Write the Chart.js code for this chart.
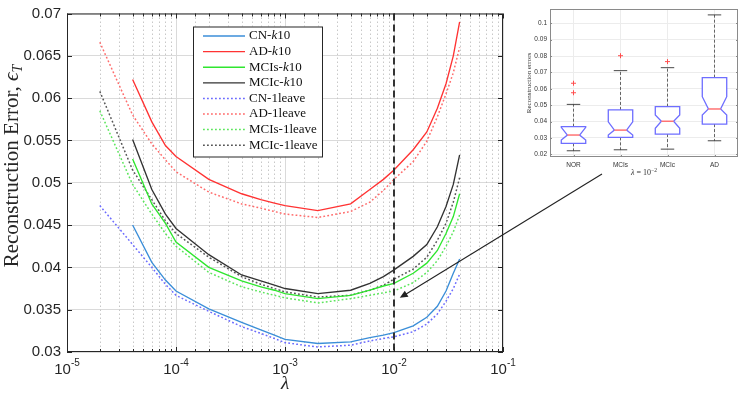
<!DOCTYPE html>
<html>
<head>
<meta charset="utf-8">
<script src="https://cdn.jsdelivr.net/npm/chart.js@4"></script>
<style>
  html, body { margin: 0; padding: 0; background: #fff; }
  #wrap { position: relative; width: 743px; height: 397px; }
  #main { position: absolute; left: 0; top: 0; }
  #inset { position: absolute; left: 500px; top: 0; }
</style>
</head>
<body>
<div id="wrap">
  <canvas id="main" width="743" height="397"></canvas>
  <canvas id="inset" width="243" height="185"></canvas>
</div>
<script>
// lambda grid (x) shared by all curves
var lambdas = [2e-5, 4e-5, 6e-5, 8e-5, 1e-4, 2e-4, 4e-4, 6e-4, 8e-4, 1e-3, 2e-3, 4e-3, 6e-3, 8e-3, 1e-2, 1.5e-2, 2e-2, 2.5e-2, 3e-2, 3.5e-2, 4e-2];

// k-fold (k10) curves start at 4e-5
var cnK10   = [null, 0.0450, 0.0406, 0.0385, 0.0372, 0.0351, 0.0335, 0.0326, 0.0320, 0.0315, 0.0310, 0.0312, 0.0317, 0.0320, 0.0323, 0.0331, 0.0341, 0.0354, 0.0372, 0.0393, 0.0410];
var adK10   = [null, 0.0622, 0.0572, 0.0544, 0.0531, 0.0504, 0.0487, 0.0480, 0.0476, 0.0473, 0.0467, 0.0475, 0.0492, 0.0504, 0.0515, 0.0539, 0.0560, 0.0588, 0.0617, 0.0650, 0.0690];
var mcisK10 = [null, 0.0528, 0.0475, 0.0452, 0.0430, 0.0400, 0.0384, 0.0377, 0.0373, 0.0369, 0.0363, 0.0367, 0.0373, 0.0378, 0.0381, 0.0393, 0.0405, 0.0420, 0.0440, 0.0460, 0.0487];
var mcicK10 = [null, 0.0551, 0.0492, 0.0463, 0.0446, 0.0415, 0.0391, 0.0384, 0.0379, 0.0375, 0.0369, 0.0373, 0.0381, 0.0389, 0.0397, 0.0413, 0.0427, 0.0448, 0.0472, 0.0498, 0.0533];

// leave-one-out curves start at 2e-5
var cnLeave   = [0.0473, 0.0427, 0.0400, 0.0380, 0.0367, 0.0348, 0.0330, 0.0322, 0.0316, 0.0311, 0.0306, 0.0308, 0.0313, 0.0316, 0.0318, 0.0324, 0.0333, 0.0345, 0.0360, 0.0375, 0.0392];
var adLeave   = [0.0666, 0.0580, 0.0546, 0.0527, 0.0513, 0.0489, 0.0475, 0.0470, 0.0466, 0.0463, 0.0459, 0.0466, 0.0477, 0.0491, 0.0504, 0.0525, 0.0549, 0.0578, 0.0605, 0.0630, 0.0660];
var mcisLeave = [0.0585, 0.0498, 0.0463, 0.0440, 0.0425, 0.0394, 0.0377, 0.0371, 0.0367, 0.0364, 0.0358, 0.0363, 0.0367, 0.0370, 0.0372, 0.0382, 0.0394, 0.0408, 0.0425, 0.0442, 0.0462];
var mcicLeave = [0.0608, 0.0515, 0.0480, 0.0455, 0.0440, 0.0412, 0.0389, 0.0380, 0.0375, 0.0371, 0.0365, 0.0367, 0.0373, 0.0379, 0.0386, 0.0398, 0.0412, 0.0432, 0.0452, 0.0477, 0.0506];

var yTicks = [0.03, 0.035, 0.04, 0.045, 0.05, 0.055, 0.06, 0.065, 0.07];
var xDecades = [1e-5, 1e-4, 1e-3, 1e-2, 1e-1];
var chosenLambda = 1e-2;

// inset boxplot at lambda = 1e-2
var boxCats = ['NOR', 'MCIs', 'MCIc', 'AD'];
var boxLow = [0.0222, 0.0228, 0.0232, 0.0283];
var boxQ1 = [0.0267, 0.0304, 0.0324, 0.0385];
var boxMedian = [0.0318, 0.0348, 0.0402, 0.0477];
var boxQ3 = [0.0369, 0.0471, 0.0491, 0.0668];
var boxHigh = [0.0505, 0.0711, 0.0729, 0.1051];
var notchLow = [0.0287, 0.0318, 0.0359, 0.0440];
var notchHigh = [0.0365, 0.0399, 0.0440, 0.0552];
var outliers = [[0.0634, 0.0576], [0.0802], [0.0766], []];

var SANS = '"Liberation Sans", Arial, sans-serif';
var SERIF = '"Liberation Serif", "DejaVu Serif", serif';
var AXIS = '#262626';

function isDecade(v) {
  var l = Math.log10(v);
  return Math.abs(l - Math.round(l)) < 1e-6;
}

function curve(label, values, color, dotted) {
  return {
    label: label,
    data: values.map(function (v, i) { return { x: lambdas[i], y: v }; }),
    borderColor: color,
    backgroundColor: color,
    borderWidth: dotted ? 1.5 : 1.35,
    borderDash: dotted ? [1.8, 2.2] : [],
    pointRadius: 0,
    tension: 0,
    fill: false
  };
}

var mainDecor = {
  id: 'mainDecor',
  beforeDraw: function (chart) {
    var c = chart.ctx;
    c.save();
    c.fillStyle = '#fff';
    c.fillRect(0, 0, chart.width, chart.height);
    c.restore();
  },
  beforeDatasetsDraw: function (chart) {
    var c = chart.ctx, a = chart.chartArea, xs = chart.scales.x;
    c.save();
    c.strokeStyle = '#c8c8c8';
    c.lineWidth = 1;
    c.setLineDash([1.5, 2.5]);
    xs.ticks.forEach(function (t) {
      if (isDecade(t.value)) return;
      var px = Math.round(xs.getPixelForValue(t.value)) + 0.5;
      c.beginPath();
      c.moveTo(px, a.top);
      c.lineTo(px, a.bottom);
      c.stroke();
    });
    c.restore();
  },
  afterDatasetsDraw: function (chart) {
    var c = chart.ctx, a = chart.chartArea, xs = chart.scales.x, ys = chart.scales.y;
    c.save();

    // selected lambda
    var dx = Math.round(xs.getPixelForValue(chosenLambda));
    c.strokeStyle = '#333';
    c.lineWidth = 2;
    c.setLineDash([7, 4]);
    c.beginPath();
    c.moveTo(dx, a.top);
    c.lineTo(dx, a.bottom);
    c.stroke();
    c.setLineDash([]);

    // box + inward ticks
    c.strokeStyle = AXIS;
    c.lineWidth = 1;
    c.strokeRect(a.left + 0.5, a.top + 0.5, a.right - a.left - 1, a.bottom - a.top - 1);
    c.beginPath();
    xs.ticks.forEach(function (t) {
      var px = Math.round(xs.getPixelForValue(t.value)) + 0.5;
      var len = isDecade(t.value) ? 5 : 3;
      c.moveTo(px, a.bottom); c.lineTo(px, a.bottom - len);
      c.moveTo(px, a.top); c.lineTo(px, a.top + len);
    });
    yTicks.forEach(function (v) {
      var py = Math.round(ys.getPixelForValue(v)) + 0.5;
      c.moveTo(a.left, py); c.lineTo(a.left + 5, py);
      c.moveTo(a.right, py); c.lineTo(a.right - 5, py);
    });
    c.stroke();

    // x tick labels 10^n
    c.fillStyle = AXIS;
    c.textBaseline = 'alphabetic';
    c.textAlign = 'left';
    xDecades.forEach(function (v) {
      var px = xs.getPixelForValue(v);
      var exp = String(Math.round(Math.log10(v)));
      c.font = '15px ' + SANS;
      var w1 = c.measureText('10').width;
      c.font = '10px ' + SANS;
      var w2 = c.measureText(exp).width;
      var x0 = px - (w1 + w2) / 2;
      c.font = '15px ' + SANS;
      c.fillText('10', x0, 374);
      c.font = '10px ' + SANS;
      c.fillText(exp, x0 + w1, 366);
    });

    // x title
    c.font = 'italic 19px ' + SERIF;
    c.textAlign = 'center';
    c.fillText('\u03bb', (a.left + a.right) / 2, 389);

    // y title
    c.save();
    c.translate(18, 166);
    c.rotate(-Math.PI / 2);
    c.textAlign = 'left';
    var t1 = 'Reconstruction Error, ';
    c.font = '21px ' + SERIF;
    var w1 = c.measureText(t1).width;
    c.font = 'italic 21px ' + SERIF;
    var w2 = c.measureText('\u03f5').width;
    c.font = 'italic 14px ' + SERIF;
    var w3 = c.measureText('T').width;
    var sx = -(w1 + w2 + w3) / 2;
    c.font = '21px ' + SERIF;
    c.fillText(t1, sx, 0);
    c.font = 'italic 21px ' + SERIF;
    c.fillText('\u03f5', sx + w1, 0);
    c.font = 'italic 14px ' + SERIF;
    c.fillText('T', sx + w1 + w2, 4);
    c.restore();

    // legend
    var lx = a.left + 126, ly = a.top + 13, lw = 129, lh = 130;
    c.fillStyle = '#fff';
    c.fillRect(lx, ly, lw, lh);
    c.strokeStyle = AXIS;
    c.lineWidth = 1;
    c.strokeRect(lx + 0.5, ly + 0.5, lw, lh);
    chart.data.datasets.forEach(function (ds, i) {
      var ry = ly + 9.5 + i * 15.6;
      c.strokeStyle = ds.borderColor;
      c.lineWidth = ds.borderWidth;
      c.setLineDash(ds.borderDash);
      c.beginPath();
      c.moveTo(lx + 10, ry);
      c.lineTo(lx + 52, ry);
      c.stroke();
      c.setLineDash([]);
      c.fillStyle = '#111';
      c.textAlign = 'left';
      c.textBaseline = 'middle';
      var parts = ds.label.split('-');
      var tx = lx + 56;
      c.font = '13px ' + SERIF;
      c.fillText(parts[0] + '-', tx, ry);
      tx += c.measureText(parts[0] + '-').width;
      var rest = parts[1];
      if (rest.charAt(0) === 'k') {
        c.font = 'italic 13px ' + SERIF;
        c.fillText('k', tx, ry);
        tx += c.measureText('k').width;
        rest = rest.slice(1);
        c.font = '13px ' + SERIF;
      }
      c.fillText(rest, tx, ry);
    });

    // arrow from inset to the chosen lambda
    var tipX = xs.getPixelForValue(1.13e-2), tipY = ys.getPixelForValue(0.0364);
    var tailX = 602, tailY = 174;
    var ang = Math.atan2(tipY - tailY, tipX - tailX);
    c.strokeStyle = '#222';
    c.fillStyle = '#222';
    c.lineWidth = 1.1;
    c.beginPath();
    c.moveTo(tailX, tailY);
    c.lineTo(tipX - 7 * Math.cos(ang), tipY - 7 * Math.sin(ang));
    c.stroke();
    c.beginPath();
    c.moveTo(tipX, tipY);
    c.lineTo(tipX - 8 * Math.cos(ang) + 3.5 * Math.sin(ang), tipY - 8 * Math.sin(ang) - 3.5 * Math.cos(ang));
    c.lineTo(tipX - 8 * Math.cos(ang) - 3.5 * Math.sin(ang), tipY - 8 * Math.sin(ang) + 3.5 * Math.cos(ang));
    c.closePath();
    c.fill();

    c.restore();
  }
};

new Chart(document.getElementById('main').getContext('2d'), {
  type: 'line',
  data: {
    datasets: [
      curve('CN-k10', cnK10, '#3b8ed8', false),
      curve('AD-k10', adK10, '#ff3333', false),
      curve('MCIs-k10', mcisK10, '#2fe62f', false),
      curve('MCIc-k10', mcicK10, '#333333', false),
      curve('CN-1leave', cnLeave, '#6b6bff', true),
      curve('AD-1leave', adLeave, '#ff6b6b', true),
      curve('MCIs-1leave', mcisLeave, '#5ce65c', true),
      curve('MCIc-1leave', mcicLeave, '#555555', true)
    ]
  },
  options: {
    responsive: false,
    animation: false,
    events: [],
    layout: { padding: { left: 0, right: 240, top: 9, bottom: 0 } },
    plugins: { legend: { display: false }, tooltip: { enabled: false } },
    scales: {
      x: {
        type: 'logarithmic',
        min: 1e-5,
        max: 1e-1,
        afterFit: function (s) { s.height = 45; },
        border: { display: false },
        grid: {
          drawTicks: false,
          color: function (ctx) { return ctx.tick && isDecade(ctx.tick.value) ? '#dadada' : 'rgba(0,0,0,0)'; }
        },
        ticks: { display: false }
      },
      y: {
        min: 0.03,
        max: 0.07,
        afterFit: function (s) { s.width = 67; },
        afterBuildTicks: function (s) { s.ticks = yTicks.map(function (v) { return { value: v }; }); },
        border: { display: false },
        grid: { drawTicks: false, color: '#dadada' },
        ticks: {
          padding: 6,
          color: AXIS,
          font: { family: SANS, size: 15, lineHeight: 1 },
          callback: function (v) { return String(+v.toFixed(3)); }
        }
      }
    }
  },
  plugins: [mainDecor]
});

// ---- inset boxplot ----
var boxDecor = {
  id: 'boxDecor',
  beforeDatasetsDraw: function (chart) {
    var c = chart.ctx, xs = chart.scales.x, ys = chart.scales.y;
    var unit = xs.getPixelForValue(1) - xs.getPixelForValue(0);
    var hw = unit * 0.26, nw = hw * 0.5, cw = hw * 0.55;
    c.save();
    boxCats.forEach(function (name, i) {
      var cx = xs.getPixelForValue(i);
      var yl = ys.getPixelForValue(boxLow[i]), y1 = ys.getPixelForValue(boxQ1[i]);
      var ym = ys.getPixelForValue(boxMedian[i]), y3 = ys.getPixelForValue(boxQ3[i]);
      var yh = ys.getPixelForValue(boxHigh[i]);
      var nl = ys.getPixelForValue(notchLow[i]), nh = ys.getPixelForValue(notchHigh[i]);
      // whiskers
      c.strokeStyle = '#555';
      c.lineWidth = 0.9;
      c.setLineDash([3, 2]);
      c.beginPath();
      c.moveTo(cx, y3); c.lineTo(cx, yh);
      c.moveTo(cx, y1); c.lineTo(cx, yl);
      c.stroke();
      c.setLineDash([]);
      c.strokeStyle = '#333';
      c.beginPath();
      c.moveTo(cx - cw, yh); c.lineTo(cx + cw, yh);
      c.moveTo(cx - cw, yl); c.lineTo(cx + cw, yl);
      c.stroke();
      // notched box
      c.fillStyle = '#fff';
      c.strokeStyle = '#6e6eff';
      c.lineWidth = 1.3;
      c.beginPath();
      c.moveTo(cx - hw, y3); c.lineTo(cx + hw, y3); c.lineTo(cx + hw, nh);
      c.lineTo(cx + nw, ym); c.lineTo(cx + hw, nl); c.lineTo(cx + hw, y1);
      c.lineTo(cx - hw, y1); c.lineTo(cx - hw, nl); c.lineTo(cx - nw, ym);
      c.lineTo(cx - hw, nh); c.closePath();
      c.fill();
      c.stroke();
      // median
      c.strokeStyle = '#ff7373';
      c.lineWidth = 1.5;
      c.beginPath();
      c.moveTo(cx - nw, ym); c.lineTo(cx + nw, ym);
      c.stroke();
    });
    c.restore();
  },
  afterDatasetsDraw: function (chart) {
    var c = chart.ctx, a = chart.chartArea, xs = chart.scales.x, ys = chart.scales.y;
    c.save();
    c.strokeStyle = '#8a8a8a';
    c.lineWidth = 1;
    c.strokeRect(a.left + 0.5, a.top + 0.5, a.right - a.left - 1, a.bottom - a.top - 1);
    c.beginPath();
    ys.ticks.forEach(function (t) {
      var py = Math.round(ys.getPixelForValue(t.value)) + 0.5;
      c.moveTo(a.left, py); c.lineTo(a.left + 2, py);
      c.moveTo(a.right, py); c.lineTo(a.right - 2, py);
    });
    boxCats.forEach(function (n, i) {
      var px = Math.round(xs.getPixelForValue(i)) + 0.5;
      c.moveTo(px, a.bottom); c.lineTo(px, a.bottom - 2);
    });
    c.stroke();
    c.fillStyle = '#333';
    // y title
    c.save();
    c.translate(31, (a.top + a.bottom) / 2);
    c.rotate(-Math.PI / 2);
    c.textAlign = 'center';
    c.font = '7px ' + SERIF;
    c.fillText('Reconstruction errors', 0, 0);
    c.restore();
    // x title  lambda = 10^-2
    c.textAlign = 'left';
    c.font = 'italic 8px ' + SERIF;
    var s1 = '\u03bb', w1 = c.measureText(s1).width;
    c.font = '8px ' + SERIF;
    var s2 = ' = 10', w2 = c.measureText(s2).width;
    c.font = '5.5px ' + SERIF;
    var s3 = '\u22122', w3 = c.measureText(s3).width;
    var x0 = (a.left + a.right) / 2 - (w1 + w2 + w3) / 2;
    c.font = 'italic 8px ' + SERIF;
    c.fillText(s1, x0, 175);
    c.font = '8px ' + SERIF;
    c.fillText(s2, x0 + w1, 175);
    c.font = '5.5px ' + SERIF;
    c.fillText(s3, x0 + w1 + w2, 172);
    c.restore();
  }
};

var outlierPoints = [];
outliers.forEach(function (list, i) {
  list.forEach(function (v) { outlierPoints.push({ x: boxCats[i], y: v }); });
});

new Chart(document.getElementById('inset').getContext('2d'), {
  type: 'scatter',
  data: {
    labels: boxCats,
    datasets: [{
      label: 'outliers',
      data: outlierPoints,
      pointStyle: 'cross',
      pointRadius: 2.5,
      borderColor: '#ff4d4d',
      borderWidth: 1
    }]
  },
  options: {
    responsive: false,
    animation: false,
    events: [],
    layout: { padding: { left: 0, right: 4, top: 9, bottom: 0 } },
    plugins: { legend: { display: false }, tooltip: { enabled: false } },
    scales: {
      x: {
        type: 'category',
        labels: boxCats,
        offset: true,
        afterFit: function (s) { s.height = 28; },
        border: { display: false },
        grid: { offset: false, drawTicks: false, color: '#ececec' },
        ticks: { padding: 4, color: '#333', font: { family: SANS, size: 6.5 } }
      },
      y: {
        min: 0.0184,
        max: 0.1087,
        afterFit: function (s) { s.width = 50; },
        border: { display: false },
        grid: { drawTicks: false, color: '#ececec' },
        ticks: {
          stepSize: 0.01,
          includeBounds: false,
          padding: 3,
          color: '#333',
          font: { family: SANS, size: 6.5 },
          callback: function (v) { return String(+v.toFixed(2)); }
        }
      }
    }
  },
  plugins: [boxDecor]
});
</script>
</body>
</html>
